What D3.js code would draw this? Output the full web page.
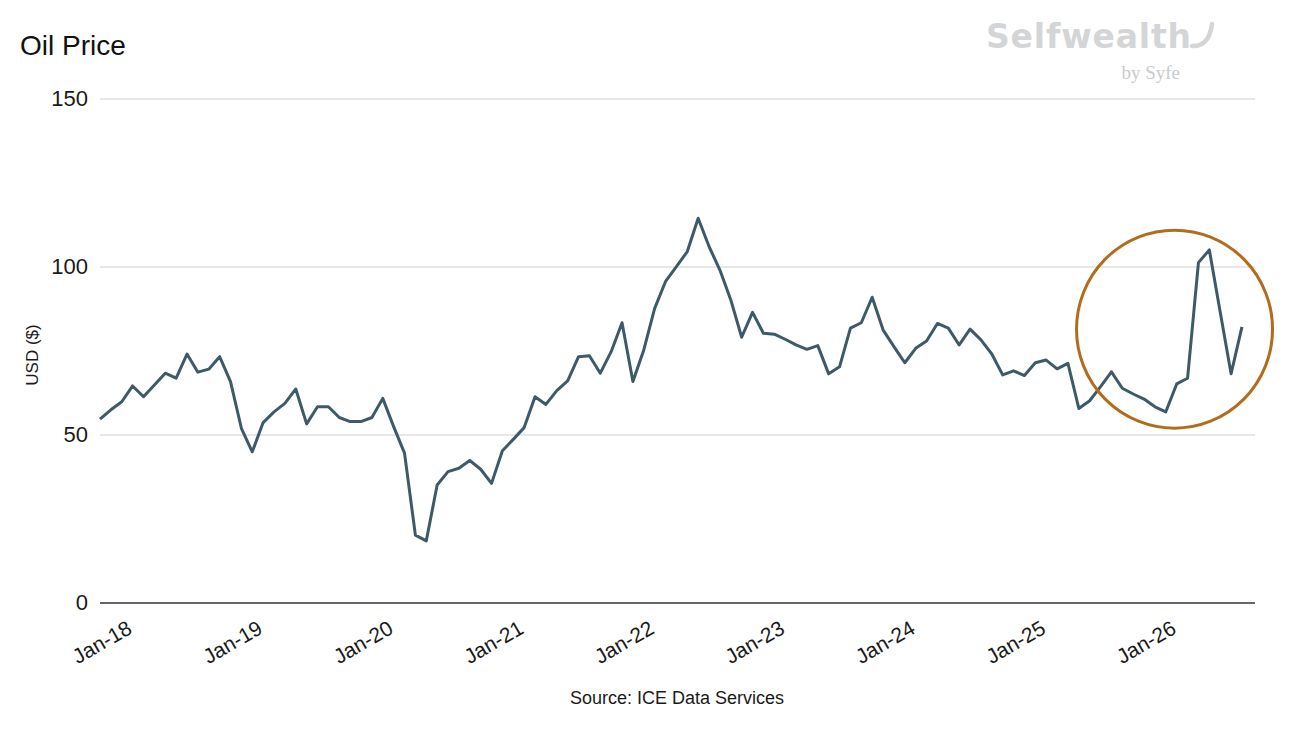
<!DOCTYPE html>
<html>
<head>
<meta charset="utf-8">
<script src="https://cdn.jsdelivr.net/npm/d3@7"></script>
<style>
  body { margin: 0; background: #fff; }
  svg { display: block; font-family: 'Liberation Sans', Arial, sans-serif; }
</style>
</head>
<body>
<div id="chart"></div>
<script>
// monthly oil price, Jan-18 onwards (USD)
const prices = [
    54.7, 57.5, 59.9, 64.6, 61.4, 64.9, 68.4, 66.9, 74.1, 68.7, 69.6, 73.3,
    65.9, 52.0, 45.0, 53.7, 56.9, 59.4, 63.7, 53.3, 58.4, 58.4, 55.2, 54.0,
    54.0, 55.2, 60.9, 52.5, 44.6, 20.2, 18.5, 35.1, 39.1, 40.1, 42.4, 39.8,
    35.6, 45.3, 48.7, 52.2, 61.4, 59.1, 63.2, 66.1, 73.3, 73.6, 68.4, 74.8,
    83.4, 65.9, 75.3, 87.7, 95.7, 100.1, 104.6, 114.5, 106.1, 99.1, 90.2, 79.1,
    86.5, 80.3, 80.0, 78.5, 76.8, 75.5, 76.6, 68.2, 70.3, 81.8, 83.4, 91.0,
    81.3, 76.3, 71.5, 75.8, 78.0, 83.2, 81.8, 76.8, 81.5, 78.3, 74.1, 67.9,
    69.1, 67.7, 71.5, 72.3, 69.7, 71.3, 57.9, 60.2, 64.4, 68.8, 63.9, 62.2,
    60.7, 58.4, 56.9, 65.2, 66.9, 101.3, 105.1, 86.6, 68.2, 82.2
];
const tick_months = [0, 12, 24, 36, 48, 60, 72, 84, 96];
const tick_labels = ['Jan-18', 'Jan-19', 'Jan-20', 'Jan-21', 'Jan-22', 'Jan-23', 'Jan-24', 'Jan-25', 'Jan-26'];
const y_ticks = [0, 50, 100, 150];
// highlighted recent spike: centre month, centre value
const highlight = { month: 98.8, value: 81.5 };

const width = 1312, height = 744;

let svg = d3.select('#chart').append('svg')
    .attr('width', width)
    .attr('height', height);

let x = d3.scaleLinear().domain([0, 106.2]).range([100, 1255]);
let y = d3.scaleLinear().domain([0, 150]).range([603, 99]);

// gridlines
svg.append('g').selectAll('line')
    .data(y_ticks.filter(d => d > 0))
    .join('line')
    .attr('x1', x(0)).attr('x2', x(106.2))
    .attr('y1', d => y(d)).attr('y2', d => y(d))
    .style('stroke', '#cfcfcf')
    .style('stroke-width', 1.2);

// y labels
svg.append('g').selectAll('text')
    .data(y_ticks)
    .join('text')
    .attr('x', 88)
    .attr('y', d => y(d) - 1)
    .attr('dy', '0.35em')
    .style('text-anchor', 'end')
    .style('font-size', '22px')
    .style('fill', '#1a1a1a')
    .text(d => d);

// baseline
svg.append('line')
    .attr('x1', x(0)).attr('x2', x(106.2))
    .attr('y1', y(0)).attr('y2', y(0))
    .style('stroke', '#333')
    .style('stroke-width', 1.5);

// x labels, rotated around their centre
svg.append('g').selectAll('text')
    .data(tick_months)
    .join('text')
    .attr('transform', d => 'translate(' + (x(d) + 2) + ',' + 642 + ') rotate(-30)')
    .attr('dy', '0.35em')
    .style('text-anchor', 'middle')
    .style('font-size', '21px')
    .style('fill', '#1a1a1a')
    .text((d, i) => tick_labels[i]);

// price line
let line = d3.line()
    .x((d, i) => x(i))
    .y(d => y(d));

svg.append('path')
    .datum(prices)
    .attr('d', line)
    .style('fill', 'none')
    .style('stroke', '#3e5a69')
    .style('stroke-width', 3)
    .style('stroke-linejoin', 'round');

// highlight circle
svg.append('ellipse')
    .attr('cx', x(highlight.month))
    .attr('cy', y(highlight.value))
    .attr('rx', 98)
    .attr('ry', 99)
    .style('fill', 'none')
    .style('stroke', '#b06d1e')
    .style('stroke-width', 3);

// title
svg.append('text')
    .attr('x', 20)
    .attr('y', 55)
    .style('font-size', '28px')
    .style('fill', '#111')
    .text('Oil Price');

// y axis title
svg.append('text')
    .attr('transform', 'translate(38,355) rotate(-90)')
    .style('text-anchor', 'middle')
    .style('font-size', '17px')
    .style('fill', '#1a1a1a')
    .text('USD ($)');

// source
svg.append('text')
    .attr('x', 677)
    .attr('y', 704)
    .style('text-anchor', 'middle')
    .style('font-size', '18px')
    .style('fill', '#1a1a1a')
    .text('Source: ICE Data Services');

// logo
let logo = svg.append('g');
logo.append('text')
    .attr('x', 986)
    .attr('y', 48)
    .attr('textLength', 205)
    .style('font-family', "'DejaVu Sans', sans-serif")
    .style('font-weight', 700)
    .style('font-size', '33px')
    .style('fill', '#d3d5d7')
    .text('Selfwealth');
logo.append('path')
    .attr('d', 'M1192,46 Q1209,47 1212,24')
    .style('fill', 'none')
    .style('stroke', '#d3d5d7')
    .style('stroke-width', 4.5)
    .style('stroke-linecap', 'round');
logo.append('text')
    .attr('x', 1180)
    .attr('y', 79)
    .style('text-anchor', 'end')
    .style('font-family', "'Liberation Serif', 'DejaVu Serif', serif")
    .style('font-size', '19px')
    .style('fill', '#c9cbcd')
    .text('by Syfe');
</script>
</body>
</html>
